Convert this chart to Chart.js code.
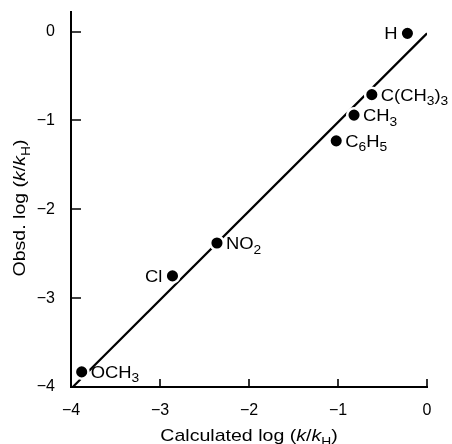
<!DOCTYPE html>
<html><head><meta charset="utf-8">
<script src="https://cdn.jsdelivr.net/npm/chart.js@4"></script>
<style>html,body{margin:0;padding:0;background:#fff}#wrap{width:452px;height:444px}</style>
</head><body><div id="wrap"><canvas id="c"></canvas></div>
<script>
// Data
const substituents = ['H', 'C(CH3)3', 'CH3', 'C6H5', 'NO2', 'Cl', 'OCH3'];
const calcLog = [-0.22, -0.62, -0.82, -1.02, -2.36, -2.86, -3.88];
const obsdLog = [-0.02, -0.71, -0.94, -1.23, -2.38, -2.75, -3.83];
const labelSide = ['left', 'right', 'right', 'right', 'right', 'left', 'right'];
const fitX = [-3.98, 0];
const fitY = [-4, -0.02];
const xTicks = [-4, -3, -2, -1, 0];
const yTicks = [-4, -3, -2, -1, 0];
const xTitle = 'Calculated log (k/kH)';
const yTitle = 'Obsd. log (k/kH)';

const FONT = '"Liberation Sans", Arial, Helvetica, sans-serif';
const STRETCH = 1.15;

// Parse a formula into [text, isSub] runs (digits become subscripts)
function chemRuns(s) {
  const out = [];
  const re = /(\d+)|([^\d]+)/g; let m;
  while ((m = re.exec(s))) out.push(m[1] ? [m[1], true] : [m[2], false]);
  return out;
}
// axis title runs: italic k, subscript H
function titleRuns(s) {
  const i = s.indexOf('(');
  return [[s.slice(0, i + 1), 'n'], ['k', 'i'], ['/', 'n'], ['k', 'i'], ['H', 's'], [')', 'n']];
}

function runWidth(ctx, runs, size) {
  let w = 0;
  for (const [t, k] of runs) {
    const sub = (k === true || k === 's');
    const it = (k === 'i');
    ctx.font = (it ? 'italic ' : '') + Math.round(sub ? size * 0.72 : size) + 'px ' + FONT;
    w += ctx.measureText(t).width;
  }
  return w;
}
function drawRuns(ctx, runs, x, y, size) {
  let cx = x;
  for (const [t, k] of runs) {
    const sub = (k === true || k === 's');
    const it = (k === 'i');
    ctx.font = (it ? 'italic ' : '') + Math.round(sub ? size * 0.72 : size) + 'px ' + FONT;
    ctx.fillText(t, cx, sub ? y + size * 0.28 : y);
    cx += ctx.measureText(t).width;
  }
}

const annot = {
  id: 'annot',
  afterDraw(chart) {
    const ctx = chart.ctx;
    const xs = chart.scales.x, ys = chart.scales.y;
    const ca = chart.chartArea;
    ctx.save();
    ctx.fillStyle = '#000';
    ctx.strokeStyle = '#000';
    // inward tick marks
    ctx.lineWidth = 1.6;
    ctx.beginPath();
    for (const v of xTicks) {
      if (v === xTicks[0]) continue;
      const px = Math.round(xs.getPixelForValue(v));
      ctx.moveTo(px, ca.bottom); ctx.lineTo(px, ca.bottom - 8);
    }
    for (const v of yTicks) {
      if (v === yTicks[0]) continue;
      const py = Math.round(ys.getPixelForValue(v));
      ctx.moveTo(ca.left, py); ctx.lineTo(ca.left + 10, py);
    }
    ctx.stroke();

    // point labels
    ctx.textBaseline = 'alphabetic';
    ctx.textAlign = 'left';
    const size = 16;
    substituents.forEach((s, i) => {
      const px = xs.getPixelForValue(calcLog[i]);
      const py = ys.getPixelForValue(obsdLog[i]);
      const runs = chemRuns(s);
      const w = runWidth(ctx, runs, size) * STRETCH;
      const left = labelSide[i] === 'right' ? px + 9 : px - 10 - w;
      ctx.save();
      ctx.translate(left, py + 6);
      ctx.scale(STRETCH, 1);
      drawRuns(ctx, runs, 0, 0, size);
      ctx.restore();
    });

    // axis titles
    const tsize = 17;
    const xr = titleRuns(xTitle);
    const xw = runWidth(ctx, xr, tsize) * STRETCH;
    ctx.save();
    ctx.translate((ca.left + ca.right) / 2 - xw / 2, 441);
    ctx.scale(STRETCH, 1);
    drawRuns(ctx, xr, 0, 0, tsize);
    ctx.restore();

    const yr = titleRuns(yTitle);
    const yw = runWidth(ctx, yr, tsize) * STRETCH;
    ctx.save();
    ctx.translate(25, 208 + yw / 2);
    ctx.rotate(-Math.PI / 2);
    ctx.scale(STRETCH, 1);
    drawRuns(ctx, yr, 0, 0, tsize);
    ctx.restore();
    ctx.restore();
  }
};

const fmt = v => (v === 0 ? '0' : '\u2212' + Math.abs(v));

new Chart(document.getElementById('c'), {
  data: {
    datasets: [
      {
        type: 'line',
        data: fitX.map((x, i) => ({ x, y: fitY[i] })),
        borderColor: '#000', borderWidth: 2.2, pointRadius: 0, fill: false,
        order: 2
      },
      {
        type: 'scatter',
        data: calcLog.map((x, i) => ({ x, y: obsdLog[i] })),
        backgroundColor: '#000', pointBorderColor: '#fff', pointBorderWidth: 2.5,
        pointRadius: 6.8, pointHoverRadius: 6.8,
        order: 1
      }
    ]
  },
  options: {
    responsive: true, maintainAspectRatio: false, animation: false,
    layout: { padding: { top: 12, right: 25, left: 0, bottom: 0 } },
    plugins: { legend: { display: false }, tooltip: { enabled: false } },
    scales: {
      x: {
        type: 'linear', position: 'bottom', min: -4, max: 0,
        afterBuildTicks: s => { s.ticks = xTicks.map(v => ({ value: v })); },
        afterFit: s => { s.height = 57; s.paddingLeft = 0; s.paddingRight = 0; },
        grid: { display: false },
        border: { display: true, color: '#000', width: 2 },
        ticks: { color: '#000', padding: 6, font: { family: FONT, size: 16 }, callback: fmt, maxRotation: 0 }
      },
      y: {
        type: 'linear', position: 'left', min: -4, max: 0.22,
        afterBuildTicks: s => { s.ticks = yTicks.map(v => ({ value: v })); },
        afterFit: s => { s.width = 71; s.paddingTop = 0; s.paddingBottom = 0; },
        grid: { display: false },
        border: { display: true, color: '#000', width: 2 },
        ticks: { color: '#000', padding: 8, font: { family: FONT, size: 16 }, callback: fmt }
      }
    }
  },
  plugins: [annot]
});
</script>
</body></html>
